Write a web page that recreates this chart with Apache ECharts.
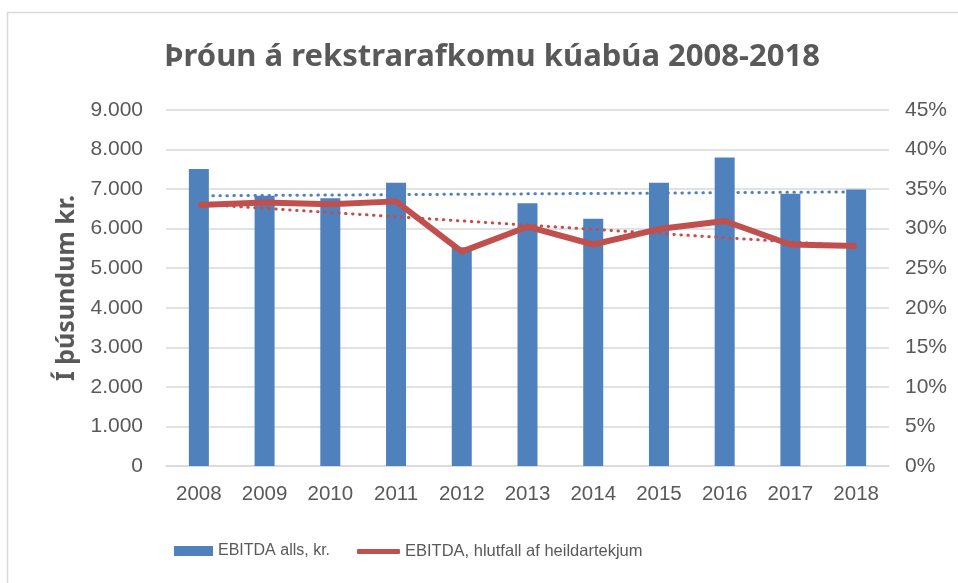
<!DOCTYPE html>
<html><head><meta charset="utf-8">
<script src="https://cdn.jsdelivr.net/npm/echarts@6/dist/echarts.min.js"></script>
<style>html,body{margin:0;padding:0;background:#fff}#c{width:958px;height:583px}</style>
</head><body><div id="c"></div>
<script>
const categories = ['2008','2009','2010','2011','2012','2013','2014','2015','2016','2017','2018'];
const ebitdaKr = [7510, 6830, 6770, 7160, 5530, 6640, 6250, 7160, 7800, 6880, 6990];
const ebitdaPct = [33.0, 33.3, 33.1, 33.45, 27.1, 30.25, 28.0, 29.95, 30.97, 28.0, 27.8];
const trendKr = [6830, null, null, null, null, null, null, null, null, null, 6930];
const trendPct = [33.1, null, null, null, null, null, null, null, null, null, 27.8];
const leftTicks = ['0','1.000','2.000','3.000','4.000','5.000','6.000','7.000','8.000','9.000'];

const FONT = 'Liberation Sans';
const chart = echarts.init(document.getElementById('c'));
chart.setOption({
  animation: false,
  textStyle: { fontFamily: FONT },
  graphic: [{ type: 'rect', shape: { x: 7.5, y: 12.5, width: 1000, height: 700 },
    style: { fill: 'none', stroke: '#d9d9d9', lineWidth: 1.5 }, silent: true }],
  title: { text: 'Þróun á rekstrarafkomu kúabúa 2008-2018', left: 487, textAlign: 'center', top: 37,
    textStyle: { fontFamily: 'Noto Sans', fontWeight: 'bold', fontSize: 31, color: '#595959' } },
  legend: [
    { data: ['EBITDA alls, kr.'], left: 169, top: 538, itemWidth: 39, itemHeight: 10, itemGap: 4,
      icon: 'rect', textStyle: { fontFamily: FONT, fontSize: 16, color: '#595959' } },
    { data: ['EBITDA, hlutfall af heildartekjum'], left: 352, top: 538, itemWidth: 43, itemHeight: 5, itemGap: 4,
      icon: 'roundRect', textStyle: { fontFamily: FONT, fontSize: 16.5, color: '#595959' } }
  ],
  grid: { left: 166, right: 69, top: 110, bottom: 117 },
  xAxis: { type: 'category', data: categories,
    axisLine: { lineStyle: { color: '#d9d9d9', width: 1.5 } }, axisTick: { show: false },
    axisLabel: { color: '#595959', fontSize: 20.5, margin: 18, fontFamily: FONT } },
  yAxis: [
    { type: 'value', min: 0, max: 9000, interval: 1000, name: 'Í þúsundum kr.', nameLocation: 'middle', nameGap: 30,
      nameTextStyle: { fontFamily: 'Noto Sans', fontWeight: 'bold', fontSize: 25, color: '#595959' },
      axisLabel: { color: '#595959', fontSize: 21, margin: 23, fontFamily: FONT,
        formatter: (v) => leftTicks[Math.round(v / 1000)] },
      splitLine: { lineStyle: { color: '#d9d9d9', width: 1.5 } } },
    { type: 'value', min: 0, max: 45, interval: 5, position: 'right',
      axisLabel: { color: '#595959', fontSize: 21, margin: 16, fontFamily: FONT, formatter: '{value}%' },
      splitLine: { show: false } }
  ],
  series: [
    { name: 'EBITDA alls, kr.', type: 'bar', data: ebitdaKr, barWidth: 20, itemStyle: { color: '#4f81bd' } },
    { name: 'EBITDA, hlutfall af heildartekjum', type: 'line', yAxisIndex: 1, data: ebitdaPct,
      showSymbol: false, lineStyle: { color: '#c0504d', width: 6 }, itemStyle: { color: '#c0504d' } },
    { name: 'trendKr', type: 'line', data: trendKr, connectNulls: true, showSymbol: false, z: 3,
      lineStyle: { color: '#4f81bd', width: 3, type: [0.5, 6.5], cap: 'round' } },
    { name: 'trendPct', type: 'line', yAxisIndex: 1, data: trendPct, connectNulls: true, showSymbol: false, z: 3,
      lineStyle: { color: '#c0504d', width: 3, type: [0.5, 6.5], cap: 'round' } }
  ]
});
</script></body></html>
